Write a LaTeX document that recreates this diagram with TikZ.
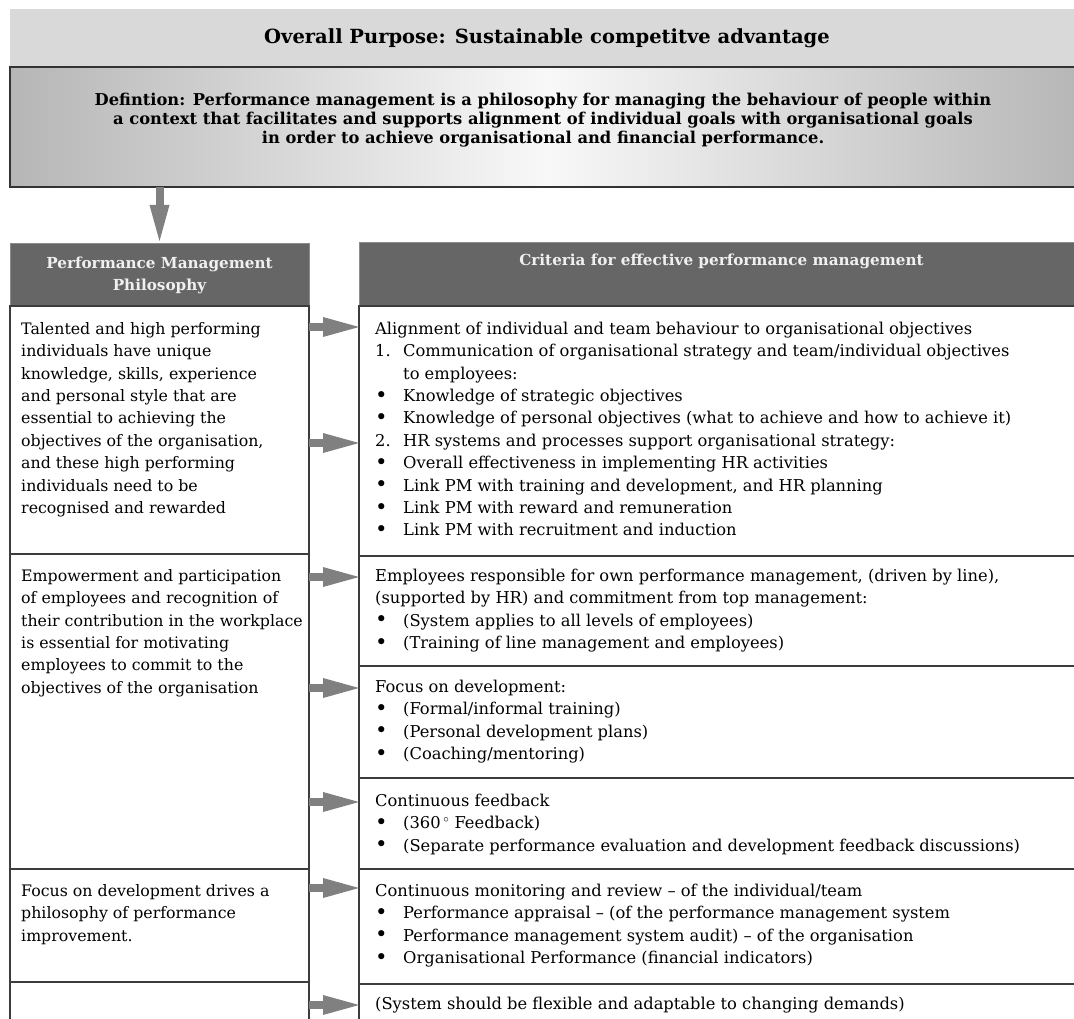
\documentclass[tikz,border=0pt]{standalone}
\usepackage{fontspec}
\setmainfont{DejaVu Serif}
\usetikzlibrary{arrows.meta}
\definecolor{topgray}{HTML}{D9D9D9}
\definecolor{hdrgray}{HTML}{666666}
\definecolor{hdrborder}{HTML}{8C8C8C}
\definecolor{linegray}{HTML}{3C3C3C}
\definecolor{arrgray}{HTML}{808080}
\definecolor{shadeside}{HTML}{B6B6B6}
\definecolor{shademid}{HTML}{F8F8F8}
\definecolor{hdrtext}{HTML}{F0F0F0}
\newcommand\bl{\makebox[28pt][l]{\raisebox{-0.7pt}{\scalebox{1.3}{\textbullet}}}}
\newcommand\nmb[1]{\makebox[28pt][l]{#1}}
\newcommand\indt{\hspace*{28pt}}
\begin{document}
\begin{tikzpicture}[x=1pt,y=-1pt,
  box/.style={rectangle, anchor=north west, inner sep=0pt, outer sep=0pt},
  cell/.style={box, draw=linegray, line width=1.4pt},
  hdr/.style={box, fill=hdrgray, draw=hdrborder, line width=1pt, text=hdrtext,
    font=\bfseries\fontsize{15.2}{22}\selectfont, align=center},
  body/.style={anchor=north west, inner sep=0pt, align=left,
    font=\fontsize{16.3}{22.4}\selectfont},
  lbody/.style={body, font=\fontsize{15.8}{22.4}\selectfont},
  blockarrow/.style={draw=arrgray, line width=8pt,
    -{Triangle[length=36pt, width=20pt, line width=0pt]}},
]
\useasboundingbox (0,0) rectangle (1074,1019);

% top boxes
\node[box, fill=topgray, minimum width=1074pt, minimum height=58pt,
  font=\bfseries\fontsize{19.5}{23}\selectfont] (purpose) at (10,9)
  {Overall Purpose: Sustainable competitve advantage};
\node[box, draw=black!80, line width=1.6pt, left color=shadeside,
  right color=shadeside, middle color=shademid,
  minimum width=1074pt, minimum height=120pt] (def) at (10,67) {};
\node[align=center, inner sep=0pt, font=\bfseries\fontsize{16.3}{19}\selectfont]
  (deftext) at (543,120)
  {Defintion: Performance management is a philosophy for managing the behaviour of people within\\
   a context that facilitates and supports alignment of individual goals with organisational goals\\
   in order to achieve organisational and financial performance.};

% headers
\node[hdr, minimum width=299pt, minimum height=62pt] (lhdr) at (10,244)
  {Performance Management\\Philosophy};
\node[hdr, minimum width=725pt, minimum height=63pt] (rhdr) at (359,243)
  {Criteria for effective performance management\\\strut};

% left cells
\node[cell, minimum width=299pt, minimum height=248pt] (L1) at (10,306) {};
\node[cell, minimum width=299pt, minimum height=315pt] (L2) at (10,554) {};
\node[cell, minimum width=299pt, minimum height=113pt] (L3) at (10,869) {};
\node[cell, minimum width=299pt, minimum height=70pt] (L4) at (10,982) {};

% right cells
\node[cell, minimum width=725pt, minimum height=250pt] (R1) at (359,306) {};
\node[cell, minimum width=725pt, minimum height=110pt] (R2) at (359,556) {};
\node[cell, minimum width=725pt, minimum height=112pt] (R3) at (359,666) {};
\node[cell, minimum width=725pt, minimum height=91pt] (R4) at (359,778) {};
\node[cell, minimum width=725pt, minimum height=115pt] (R5) at (359,869) {};
\node[cell, minimum width=725pt, minimum height=70pt] (R6) at (359,984) {};

% left texts
\node[lbody] (L1t) at (21,318.5) {\strut Talented and high performing\\
individuals have unique\\
knowledge, skills, experience\\
and personal style that are\\
essential to achieving the\\
objectives of the organisation,\\
and these high performing\\
individuals need to be\\
recognised and rewarded};
\node[lbody] (L2t) at (21,565.5) {\strut Empowerment and participation\\
of employees and recognition of\\
their contribution in the workplace\\
is essential for motivating\\
employees to commit to the\\
objectives of the organisation};
\node[lbody] (L3t) at (21,880.5) {\strut Focus on development drives a\\
philosophy of performance\\
improvement.};

% right texts
\node[body] (R1t) at (375,318.5) {\strut Alignment of individual and team behaviour to organisational objectives\\
\nmb{1.}Communication of organisational strategy and team/individual objectives\\
\indt to employees:\\
\bl Knowledge of strategic objectives\\
\bl Knowledge of personal objectives (what to achieve and how to achieve it)\\
\nmb{2.}HR systems and processes support organisational strategy:\\
\bl Overall effectiveness in implementing HR activities\\
\bl Link PM with training and development, and HR planning\\
\bl Link PM with reward and remuneration\\
\bl Link PM with recruitment and induction};
\node[body] (R2t) at (375,565.5) {\strut Employees responsible for own performance management, (driven by line),\\
(supported by HR) and commitment from top management:\\
\bl (System applies to all levels of employees)\\
\bl (Training of line management and employees)};
\node[body] (R3t) at (375,676.5) {\strut Focus on development:\\
\bl (Formal/informal training)\\
\bl (Personal development plans)\\
\bl (Coaching/mentoring)};
\node[body] (R4t) at (375,790.5) {\strut Continuous feedback\\
\bl (360\,$^\circ$ Feedback)\\
\bl (Separate performance evaluation and development feedback discussions)};
\node[body] (R5t) at (375,880.5) {\strut Continuous monitoring and review – of the individual/team\\
\bl Performance appraisal – (of the performance management system\\
\bl Performance management system audit) – of the organisation\\
\bl Organisational Performance (financial indicators)};
\node[body] (R6t) at (375,993.5) {\strut (System should be flexible and adaptable to changing demands)};

% arrows
\draw[blockarrow] (lhdr.north |- def.south) -- ([yshift=3pt]lhdr.north);
\draw[blockarrow] (L1.east |- 0,327) -- (R1.west |- 0,327);
\draw[blockarrow] (L1.east |- 0,443) -- (R1.west |- 0,443);
\draw[blockarrow] (L2.east |- 0,577) -- (R2.west |- 0,577);
\draw[blockarrow] (L2.east |- 0,688) -- (R3.west |- 0,688);
\draw[blockarrow] (L2.east |- 0,802) -- (R4.west |- 0,802);
\draw[blockarrow] (L3.east |- 0,888) -- (R5.west |- 0,888);
\draw[blockarrow] (L4.east |- 0,1005) -- (R6.west |- 0,1005);
\end{tikzpicture}
\end{document}
